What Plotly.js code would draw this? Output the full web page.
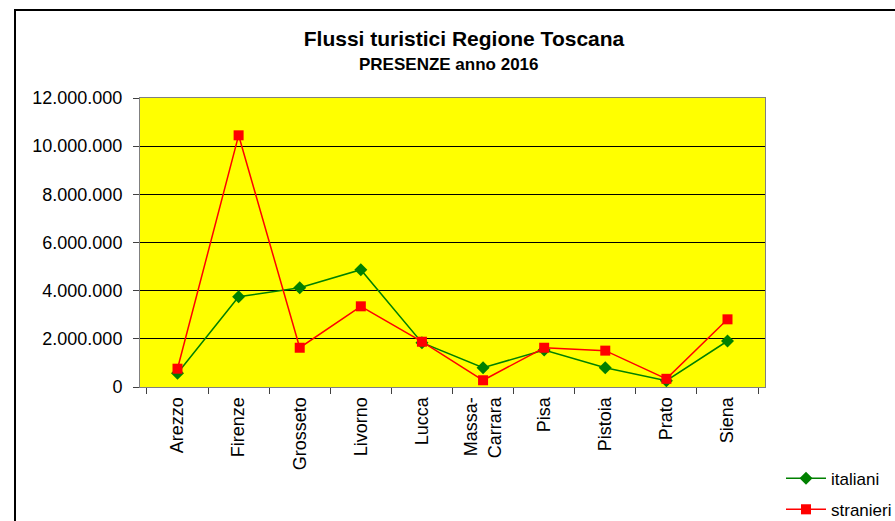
<!DOCTYPE html>
<html>
<head>
<meta charset="utf-8">
<script src="https://cdn.plot.ly/plotly-3.0.1.min.js"></script>
<style>html,body{margin:0;padding:0;background:#fff;}#chart{width:895px;height:521px;}</style>
</head>
<body>
<div id="chart"></div>
<script>
const categories = ["Arezzo","Firenze","Grosseto","Livorno","Lucca","Massa-<br>Carrara","Pisa","Pistoia","Prato","Siena"];
const italiani = [570000, 3750000, 4120000, 4870000, 1840000, 800000, 1540000, 800000, 260000, 1910000];
const stranieri = [760000, 10450000, 1630000, 3350000, 1880000, 280000, 1630000, 1510000, 340000, 2810000];
const seriesNames = ["italiani", "stranieri"];
const titleText = "Flussi turistici Regione Toscana";
const subtitleText = "PRESENZE anno 2016";

const FONT = "Liberation Sans, Arial, sans-serif";

const traces = [
  {
    x: categories, y: italiani, name: seriesNames[0], type: "scatter", mode: "lines+markers",
    legendgroup: "a",
    line: {color: "#008000", width: 1.5},
    marker: {symbol: "diamond", size: 10, color: "#008000"}
  },
  {
    x: categories, y: stranieri, name: seriesNames[1], type: "scatter", mode: "lines+markers",
    legendgroup: "b",
    line: {color: "#FF0000", width: 1.5},
    marker: {symbol: "square", size: 10, color: "#FF0000"}
  }
];

const layout = {
  width: 895, height: 521,
  margin: {l: 140, r: 130, t: 98, b: 134, autoexpand: false},
  paper_bgcolor: "#FFFFFF",
  plot_bgcolor: "#FFFF00",
  separators: ",.",
  font: {family: FONT, color: "#000000", size: 18},
  showlegend: true,
  title: {
    text: "<b>" + titleText + "</b>",
    font: {family: FONT, size: 21, color: "#000000"},
    xref: "paper", x: 0.5184, xanchor: "center",
    yref: "container", y: 1 - 39/521, yanchor: "middle"
  },
  annotations: [{
    text: "<b>" + subtitleText + "</b>",
    xref: "paper", yref: "paper", x: 0.4944, y: 1.1176,
    xanchor: "center", yanchor: "middle", showarrow: false,
    font: {family: FONT, size: 17, color: "#000000"}
  }],
  xaxis: {
    type: "category",
    tickangle: -90,
    tickson: "boundaries",
    ticks: "outside", ticklen: 6, tickcolor: "#404040",
    ticklabelstandoff: 2,
    showline: true, linecolor: "#808080", linewidth: 1, mirror: true,
    showgrid: false, zeroline: false,
    tickfont: {family: FONT, size: 18, color: "#000000"},
    fixedrange: true
  },
  yaxis: {
    range: [0, 12000000], dtick: 2000000, tick0: 0,
    tickformat: ",d",
    ticks: "outside", ticklen: 6, tickcolor: "#404040",
    ticklabelstandoff: 7,
    showline: true, linecolor: "#808080", linewidth: 1, mirror: true,
    showgrid: true, gridcolor: "#000000", gridwidth: 1,
    zeroline: false,
    tickfont: {family: FONT, size: 18, color: "#000000"},
    fixedrange: true
  },
  legend: {
    x: 1.0256, xanchor: "left", xref: "paper",
    y: -0.255, yanchor: "top", yref: "paper",
    bgcolor: "rgba(0,0,0,0)", borderwidth: 0,
    traceorder: "grouped", tracegroupgap: 6,
    itemwidth: 40,
    font: {family: FONT, size: 17, color: "#000000"}
  },
  shapes: [{
    type: "rect", xref: "paper", yref: "paper",
    x0: (15 - 140) / 625, x1: (910 - 140) / 625,
    y0: (387 - 10) / 289, y1: (387 - 540) / 289,
    line: {color: "#000000", width: 2}, fillcolor: "rgba(0,0,0,0)", layer: "below"
  }]
};

Plotly.newPlot("chart", traces, layout, {displayModeBar: false, staticPlot: true});
</script>
</body>
</html>
